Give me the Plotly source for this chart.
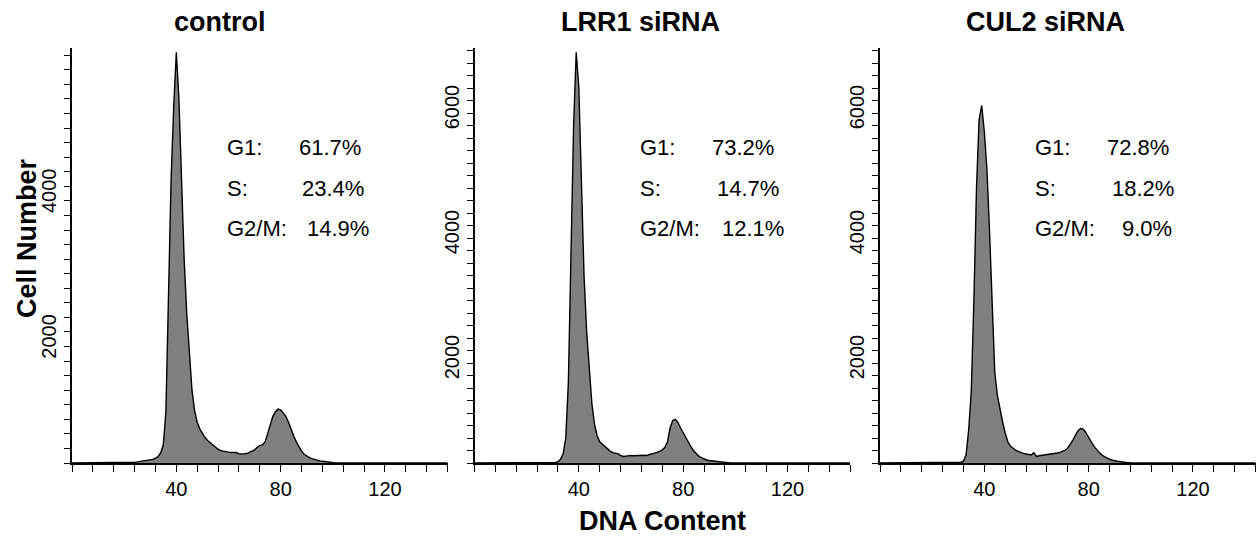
import plotly.graph_objects as go

W, H = 1258, 537

# ---------------- data (DNA content channel vs cell count) ----------------
channels = list(range(0, 145))

control_counts = [0]*23 + [
    5, 10, 15, 20, 25, 35, 40, 45, 50, 65,            # 23-32
    90, 140, 250, 700, 2400, 3900, 4900, 5640, 5000, 3800,  # 33-42
    2800, 2050, 1450, 1000, 720, 560, 470, 400, 350, 310,   # 43-52
    280, 245, 215, 190, 170, 160, 155, 150, 145, 140,       # 53-62
    145, 125, 120, 125, 130, 145, 155, 180, 215, 240,       # 63-72
    250, 290, 400, 540, 640, 700, 740, 730, 680, 640,       # 73-82
    560, 460, 370, 290, 220, 165, 120, 95, 75, 60,          # 83-92
    48, 38, 30, 25, 18, 12, 8, 5] + [0]*44                   # 93-100, 101-144

lrr1_counts = [0]*30 + [
    5, 10, 20, 60, 150, 400, 1300, 3400, 5400, 6570,        # 30-39
    6000, 4500, 3000, 2100, 1450, 950, 620, 440, 340, 300,  # 40-49
    265, 230, 190, 165, 160, 150, 120, 105, 110, 118,       # 50-59
    120, 115, 120, 118, 122, 125, 120, 130, 145, 160,       # 60-69
    170, 185, 210, 250, 340, 560, 680, 700, 650, 560,       # 70-79
    480, 410, 330, 260, 195, 150, 110, 85, 60, 48,          # 80-89
    40, 35, 25, 18, 10, 5] + [0]*49                          # 90-95, 96-144

cul2_counts = [0]*29 + [
    5, 8, 12, 30, 130, 530, 1150, 2600, 4400, 5500,         # 29-38
    5720, 5300, 4700, 3700, 2400, 1450, 1080, 850, 660, 480, # 39-48
    340, 270, 230, 205, 185, 165, 155, 145, 135, 130,       # 49-58
    165, 105, 115, 120, 125, 130, 135, 140, 150, 160,       # 59-68
    170, 185, 205, 240, 300, 370, 450, 520, 555, 540,       # 69-78
    480, 420, 340, 270, 215, 170, 130, 100, 80, 60,         # 79-88
    45, 35, 28, 20, 14, 9, 5, 3] + [0]*48                    # 89-96, 97-144

panel_titles = ["control", "LRR1 siRNA", "CUL2 siRNA"]
phase_labels = ["G1:", "S:", "G2/M:"]
phase_values = [
    ["61.7%", "23.4%", "14.9%"],
    ["73.2%", "14.7%", "12.1%"],
    ["72.8%", "18.2%", "9.0%"],
]
x_tick_vals = [40, 80, 120]
y_tick_vals = [[2000, 4000], [2000, 4000, 6000], [2000, 4000, 6000]]
x_max = 144
y_max = [5700, 6640, 6640]

# ---------------- layout constants (pixels) ----------------
FONT = "Liberation Sans, Arial, sans-serif"
x_left_px = [72, 474.5, 880]
x_right_px = [447.6, 850.1, 1255.6]
y_bottom_px, y_top_px = 463, 48

def px_x(p):
    return p / W

def px_y(p):
    return 1 - p / H

fig = go.Figure()
series = [control_counts, lrr1_counts, cul2_counts]

for i, counts in enumerate(series):
    n = i + 1
    xa = "x" if n == 1 else f"x{n}"
    ya = "y" if n == 1 else f"y{n}"
    fig.add_trace(go.Scatter(
        x=channels, y=counts, xaxis=xa, yaxis=ya,
        mode="lines", fill="tozeroy", fillcolor="#808080",
        line=dict(color="black", width=1.4),
        showlegend=False, hoverinfo="skip",
    ))
    xkey = "xaxis" if n == 1 else f"xaxis{n}"
    ykey = "yaxis" if n == 1 else f"yaxis{n}"
    fig.update_layout({
        xkey: dict(
            domain=[px_x(x_left_px[i]), px_x(x_right_px[i])],
            range=[0, x_max + 0.01], anchor=ya,
            showgrid=False, zeroline=False, showline=True,
            linecolor="black", linewidth=1.5,
            tickmode="array", tickvals=x_tick_vals,
            ticks="outside", ticklen=7, tickwidth=1.3, tickcolor="black",
            minor=dict(dtick=8, tick0=0, ticks="outside", ticklen=7,
                       tickwidth=1.3, tickcolor="black", showgrid=False),
            tickfont=dict(family=FONT, size=20, color="black"),
            fixedrange=True,
        ),
        ykey: dict(
            domain=[px_y(y_bottom_px), px_y(y_top_px)],
            range=[0, y_max[i]], anchor=xa,
            showgrid=False, zeroline=False, showline=True,
            linecolor="black", linewidth=1.5,
            tickmode="array", tickvals=y_tick_vals[i],
            ticks="outside", ticklen=6, tickwidth=1.3, tickcolor="black",
            minor=dict(dtick=200, tick0=0, ticks="outside", ticklen=6,
                       tickwidth=1.3, tickcolor="black", showgrid=False),
            tickangle=-90, ticklabelshift=22,
            tickfont=dict(family=FONT, size=20, color="black"),
            fixedrange=True,
        ),
    })

annotations = []
title_cx = [220, 640, 1045]
for i, t in enumerate(panel_titles):
    annotations.append(dict(
        text=f"<b>{t}</b>", x=px_x(title_cx[i]), y=px_y(22),
        xref="paper", yref="paper", showarrow=False,
        xanchor="center", yanchor="middle",
        font=dict(family=FONT, size=27, color="black")))

label_x = [225, 638, 1033]
value_x = [[297, 300, 305], [710, 715, 720], [1105, 1110, 1120]]
row_y = [147, 188, 228]
for i in range(3):
    for r in range(3):
        annotations.append(dict(
            text=phase_labels[r], x=px_x(label_x[i]), y=px_y(row_y[r]),
            xref="paper", yref="paper", showarrow=False,
            xanchor="left", yanchor="middle",
            font=dict(family=FONT, size=22, color="black")))
        annotations.append(dict(
            text=phase_values[i][r], x=px_x(value_x[i][r]), y=px_y(row_y[r]),
            xref="paper", yref="paper", showarrow=False,
            xanchor="left", yanchor="middle",
            font=dict(family=FONT, size=22, color="black")))

annotations.append(dict(
    text="<b>DNA Content</b>", x=px_x(662), y=px_y(521),
    xref="paper", yref="paper", showarrow=False,
    xanchor="center", yanchor="middle",
    font=dict(family=FONT, size=27, color="black")))
annotations.append(dict(
    text="<b>Cell Number</b>", x=px_x(27), y=px_y(238),
    xref="paper", yref="paper", showarrow=False, textangle=-90,
    xanchor="center", yanchor="middle",
    font=dict(family=FONT, size=27, color="black")))

fig.update_layout(
    width=W, height=H,
    margin=dict(l=0, r=0, t=0, b=0),
    paper_bgcolor="white", plot_bgcolor="white",
    annotations=annotations,
    showlegend=False,
)

fig.write_html(
    "out.html",
    config={"displayModeBar": False},
    post_script="document.body.style.margin='0';document.body.style.overflow='hidden';",
)
